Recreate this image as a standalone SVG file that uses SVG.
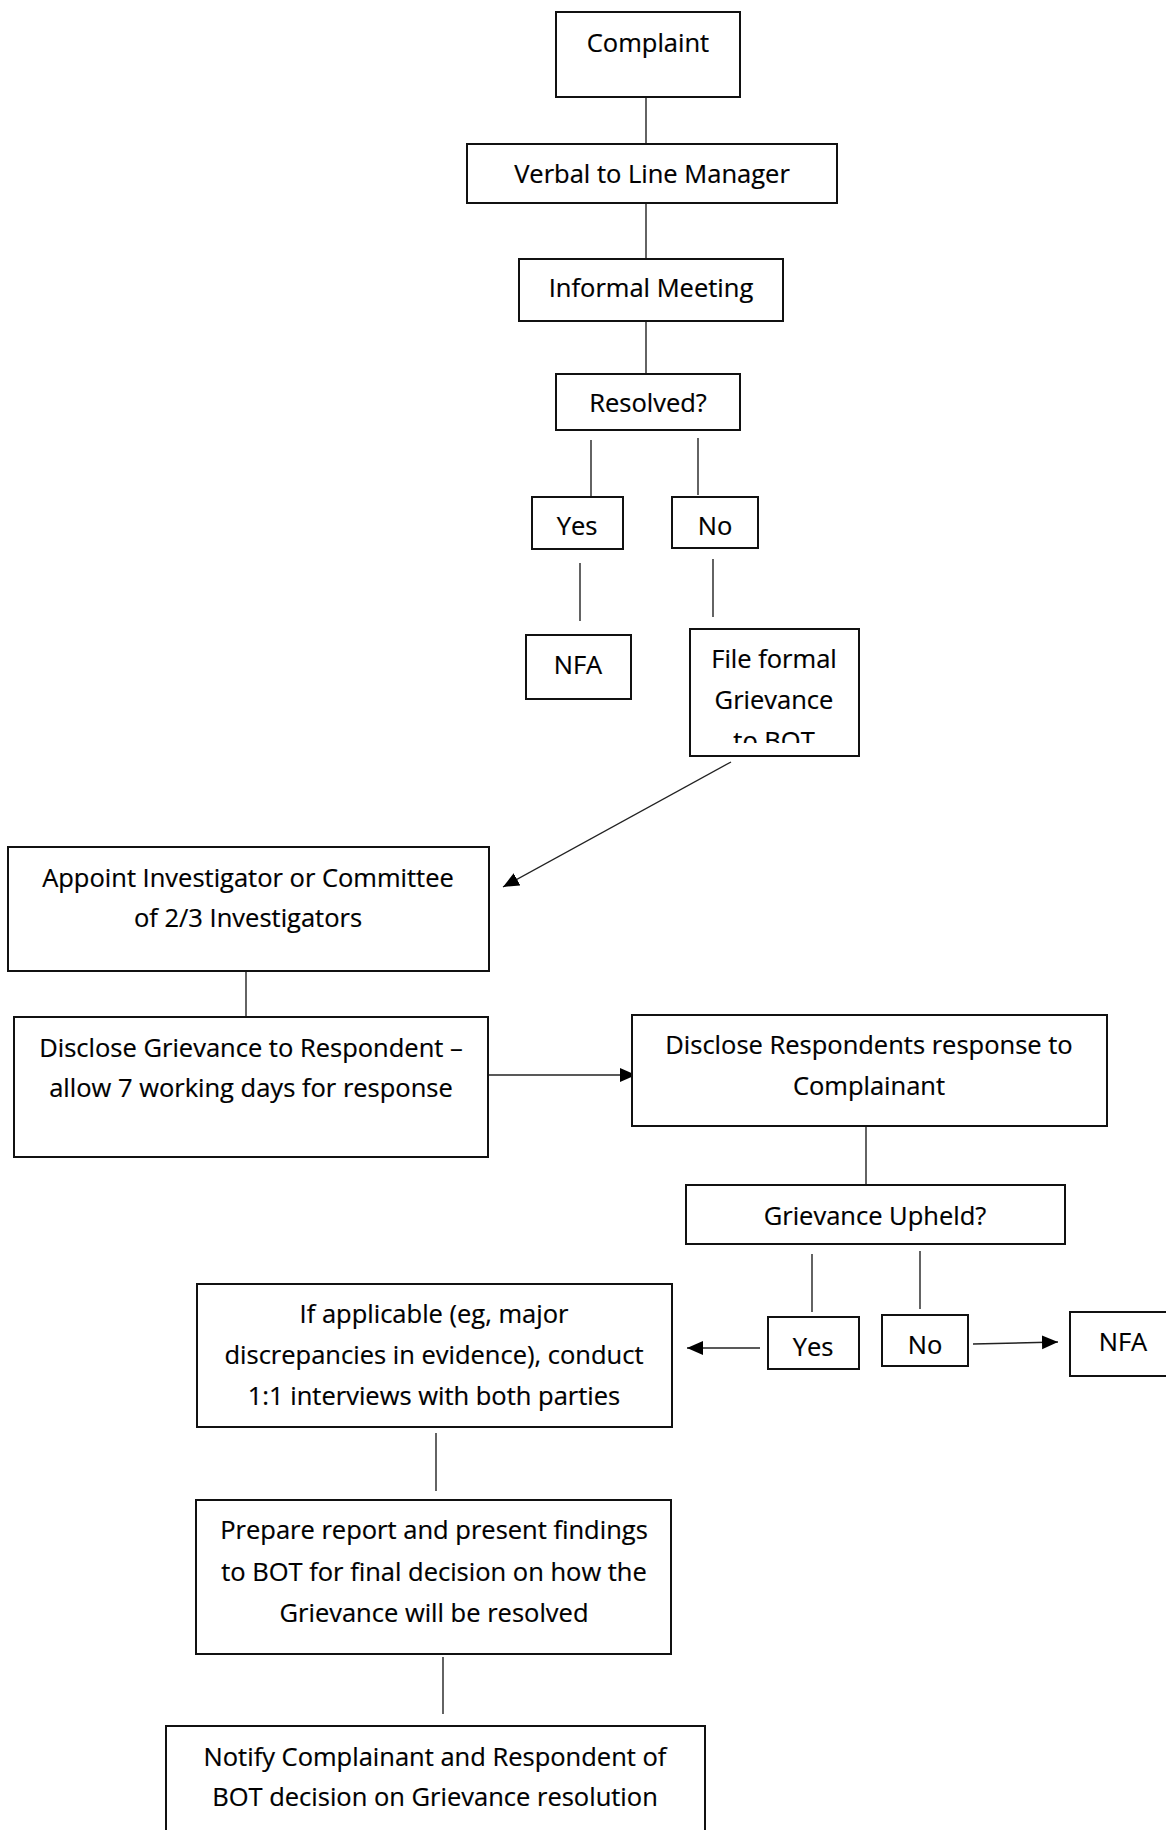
<svg xmlns="http://www.w3.org/2000/svg" width="1166" height="1830" viewBox="0 0 1166 1830">
<style>
.box{fill:#fff;stroke:#111;stroke-width:2}
.t{font-family:"Open Sans","Noto Sans","Liberation Sans",sans-serif;font-size:25.5px;fill:#000;stroke:#000;stroke-width:0.2;text-anchor:middle}
.c{stroke:#222;stroke-width:1.4;fill:none}
.a{stroke:#222;stroke-width:1.4;fill:none;marker-end:url(#ah)}
</style>
<defs>
<marker id="ah" markerUnits="userSpaceOnUse" markerWidth="18" markerHeight="16" refX="16" refY="7" orient="auto" viewBox="0 0 18 16">
<path d="M0,0 L16,7 L0,14 Z" fill="#000"/>
</marker>
<clipPath id="clipFile"><rect x="690" y="629" width="169" height="114"/></clipPath>
</defs>
<rect width="1166" height="1830" fill="#fff"/>

<g id="connectors">
<line class="c" x1="646" y1="97" x2="646" y2="146"/>
<line class="c" x1="646" y1="203" x2="646" y2="262"/>
<line class="c" x1="646" y1="321" x2="646" y2="376"/>
<line class="c" x1="591" y1="440" x2="591" y2="497"/>
<line class="c" x1="698" y1="438" x2="698" y2="495"/>
<line class="c" x1="580" y1="563" x2="580" y2="621"/>
<line class="c" x1="713" y1="559" x2="713" y2="617"/>
<line class="a" x1="731" y1="762" x2="503" y2="887"/>
<line class="c" x1="246" y1="971" x2="246" y2="1021"/>
<line class="a" x1="488" y1="1075" x2="636" y2="1075"/>
<line class="c" x1="866" y1="1126" x2="866" y2="1185"/>
<line class="c" x1="812" y1="1254" x2="812" y2="1312"/>
<line class="c" x1="920" y1="1251" x2="920" y2="1309"/>
<line class="a" x1="760" y1="1348" x2="687" y2="1348"/>
<line class="a" x1="973" y1="1344" x2="1058" y2="1342"/>
<line class="c" x1="436" y1="1433" x2="436" y2="1491"/>
<line class="c" x1="443" y1="1657" x2="443" y2="1714"/>
</g>

<g id="complaint"><rect class="box" x="556" y="12" width="184" height="85"/><text class="t" x="648" y="52">Complaint</text></g>
<g id="verbal"><rect class="box" x="467" y="144" width="370" height="59"/><text class="t" x="652" y="183">Verbal to Line Manager</text></g>
<g id="informal"><rect class="box" x="519" y="259" width="264" height="62"/><text class="t" x="651" y="297">Informal Meeting</text></g>
<g id="resolved"><rect class="box" x="556" y="374" width="184" height="56"/><text class="t" x="648" y="412">Resolved?</text></g>
<g id="yes1"><rect class="box" x="532" y="497" width="91" height="52"/><text class="t" x="577" y="535">Yes</text></g>
<g id="no1"><rect class="box" x="672" y="497" width="86" height="51"/><text class="t" x="715" y="535">No</text></g>
<g id="nfa1"><rect class="box" x="526" y="635" width="105" height="64"/><text class="t" x="578" y="674">NFA</text></g>
<g id="fileformal"><rect class="box" x="690" y="629" width="169" height="127"/>
<g clip-path="url(#clipFile)"><text class="t" x="774" y="668">File formal</text><text class="t" x="774" y="709">Grievance</text><text class="t" x="774" y="750">to BOT</text></g></g>
<g id="appoint"><rect class="box" x="8" y="847" width="481" height="124"/><text class="t" x="248" y="887">Appoint Investigator or Committee</text><text class="t" x="248" y="927">of 2/3 Investigators</text></g>
<g id="discloseGrievance"><rect class="box" x="14" y="1017" width="474" height="140"/><text class="t" x="251" y="1057">Disclose Grievance to Respondent –</text><text class="t" x="251" y="1097">allow 7 working days for response</text></g>
<g id="discloseResponse"><rect class="box" x="632" y="1015" width="475" height="111"/><text class="t" x="869" y="1054">Disclose Respondents response to</text><text class="t" x="869" y="1095">Complainant</text></g>
<g id="upheld"><rect class="box" x="686" y="1185" width="379" height="59"/><text class="t" x="875" y="1225">Grievance Upheld?</text></g>
<g id="yes2"><rect class="box" x="768" y="1317" width="91" height="52"/><text class="t" x="813" y="1356">Yes</text></g>
<g id="no2"><rect class="box" x="882" y="1315" width="86" height="51"/><text class="t" x="925" y="1354">No</text></g>
<g id="nfa2"><rect class="box" x="1070" y="1312" width="110" height="64"/><text class="t" x="1123" y="1351">NFA</text></g>
<g id="interviews"><rect class="box" x="197" y="1284" width="475" height="143"/><text class="t" x="434" y="1323">If applicable (eg, major</text><text class="t" x="434" y="1364">discrepancies in evidence), conduct</text><text class="t" x="434" y="1405">1:1 interviews with both parties</text></g>
<g id="report"><rect class="box" x="196" y="1500" width="475" height="154"/><text class="t" x="434" y="1539">Prepare report and present findings</text><text class="t" x="434" y="1581">to BOT for final decision on how the</text><text class="t" x="434" y="1622">Grievance will be resolved</text></g>
<g id="notify"><rect class="box" x="166" y="1726" width="539" height="120"/><text class="t" x="435" y="1766">Notify Complainant and Respondent of</text><text class="t" x="435" y="1806">BOT decision on Grievance resolution</text></g>
</svg>
